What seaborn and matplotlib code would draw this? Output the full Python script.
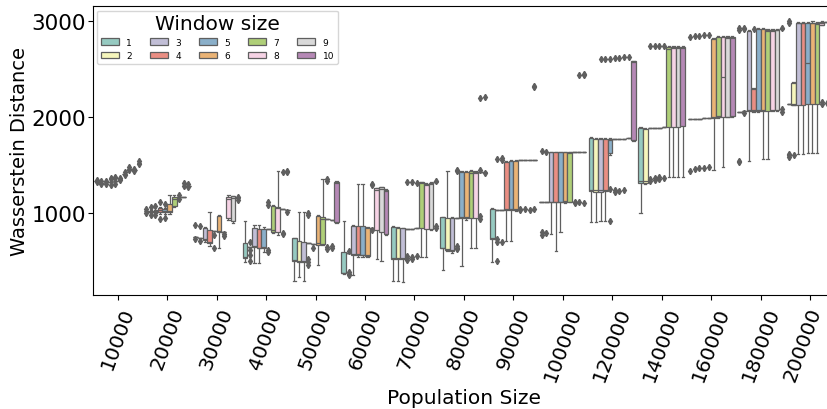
import numpy as np
import pandas as pd
import matplotlib
matplotlib.use("Agg")
import matplotlib.pyplot as plt
from matplotlib.transforms import ScaledTranslation
import seaborn as sns

# Population sizes on the x axis and the window sizes compared at each one
POP_SIZES = [10000, 20000, 30000, 40000, 50000, 60000, 70000, 80000,
             90000, 100000, 120000, 140000, 160000, 180000, 200000]
WINDOWS = [1, 2, 3, 4, 5, 6, 7, 8, 9, 10]

# Box statistics per population size (rows) and window size (columns)
WHIS_LO = [
    [1335, 1315, 1320, 1320, 1330, 1350, 1410, 1460, 1445, 1525],
    [1020, 1000, 1005, 995, 990, 990, 1060, 1165, 1165, 1285],
    [750, 735, 700, 660, 815, 640, 805, 930, 900, 1155],
    [493, 650, 480, 480, 590, 830, 790, 770, 1040, 1035],
    [295, 330, 295, 685, 680, 460, 665, 937, 930, 900],
    [360, 585, 355, 545, 540, 545, 840, 520, 505, 770],
    [295, 290, 280, 838, 838, 840, 538, 540, 820, 1320],
    [410, 600, 580, 950, 445, 930, 632, 640, 1430, 1430],
    [493, 1035, 1030, 705, 705, 1025, 1552, 1550, 1550, 1548],
    [1110, 1110, 780, 605, 800, 1100, 1110, 1632, 1632, 1632],
    [905, 905, 915, 920, 1600, 1771, 1775, 1775, 1778, 1750],
    [1005, 1300, 1886, 1888, 1890, 1892, 1370, 1380, 1370, 1375],
    [1975, 1978, 1982, 1985, 1990, 1448, 1990, 1476, 1995, 2000],
    [2055, 2060, 1545, 2050, 2050, 1560, 1560, 2060, 2060, 2917],
    [2135, 2120, 1615, 1610, 1620, 1625, 1630, 2955, 2985, 2990],
]
Q1 = [
    [1335, 1315, 1320, 1320, 1330, 1350, 1410, 1460, 1445, 1525],
    [1020, 1010, 1010, 1007, 1007, 1007, 1070, 1165, 1165, 1285],
    [750, 735, 720, 687, 815, 800, 805, 948, 920, 1155],
    [528, 650, 650, 635, 640, 830, 805, 800, 1040, 1035],
    [503, 493, 493, 685, 680, 667, 677, 937, 930, 909],
    [375, 585, 565, 563, 560, 555, 840, 826, 800, 781],
    [521, 521, 521, 838, 838, 840, 840, 836, 830, 1320],
    [632, 620, 607, 950, 945, 945, 945, 950, 1430, 1430],
    [729, 1035, 1030, 1035, 1035, 1035, 1552, 1550, 1550, 1548],
    [1110, 1110, 1111, 1111, 1111, 1115, 1120, 1632, 1632, 1632],
    [1232, 1222, 1222, 1232, 1625, 1771, 1775, 1775, 1778, 1760],
    [1317, 1317, 1886, 1888, 1890, 1892, 1900, 1900, 1900, 1905],
    [1975, 1978, 1982, 1985, 1990, 1990, 1997, 2000, 2005, 2014],
    [2055, 2060, 2060, 2060, 2060, 2065, 2065, 2070, 2070, 2917],
    [2135, 2128, 2128, 2128, 2135, 2135, 2140, 2962, 2985, 2990],
]
MEDIAN = [
    [1335, 1315, 1320, 1320, 1330, 1350, 1410, 1460, 1445, 1525],
    [1020, 1015, 1015, 1030, 1020, 1020, 1150, 1165, 1165, 1285],
    [750, 735, 730, 700, 815, 810, 805, 1150, 1160, 1155],
    [540, 650, 655, 640, 645, 830, 820, 1050, 1040, 1035],
    [510, 500, 500, 685, 680, 690, 940, 937, 930, 1310],
    [380, 585, 575, 570, 565, 565, 840, 1240, 1255, 1230],
    [530, 530, 530, 838, 838, 840, 1310, 1295, 1305, 1320],
    [640, 630, 615, 950, 955, 955, 1420, 1420, 1430, 1430],
    [740, 1035, 1030, 1045, 1045, 1045, 1552, 1550, 1550, 1548],
    [1110, 1110, 1120, 1120, 1120, 1125, 1620, 1632, 1632, 1632],
    [1240, 1235, 1235, 1240, 1760, 1771, 1775, 1775, 1778, 2570],
    [1330, 1330, 1886, 1888, 1890, 1892, 2710, 2715, 2715, 2715],
    [1975, 1978, 1982, 1985, 1990, 2000, 2010, 2420, 2820, 2820],
    [2055, 2060, 2070, 2070, 2070, 2075, 2900, 2900, 2905, 2917],
    [2135, 2135, 2980, 2975, 2560, 2975, 2965, 2975, 2985, 2990],
]
Q3 = [
    [1335, 1315, 1320, 1320, 1330, 1350, 1410, 1460, 1445, 1525],
    [1020, 1025, 1025, 1049, 1040, 1090, 1170, 1165, 1165, 1285],
    [750, 735, 845, 823, 815, 965, 805, 1164, 1174, 1155],
    [687, 650, 840, 833, 835, 830, 1070, 1062, 1040, 1035],
    [736, 711, 701, 685, 680, 965, 955, 937, 930, 1326],
    [597, 585, 870, 865, 860, 840, 840, 1257, 1268, 1243],
    [850, 840, 840, 838, 838, 840, 1318, 1302, 1313, 1320],
    [955, 950, 945, 950, 1430, 1430, 1435, 1430, 1430, 1430],
    [1042, 1035, 1030, 1528, 1545, 1540, 1552, 1550, 1550, 1548],
    [1110, 1110, 1632, 1632, 1632, 1632, 1632, 1632, 1632, 1632],
    [1781, 1771, 1771, 1771, 1771, 1771, 1775, 1775, 1778, 2580],
    [1886, 1875, 1886, 1888, 1890, 1892, 2726, 2726, 2726, 2726],
    [1975, 1978, 1982, 1985, 1990, 2813, 2830, 2830, 2830, 2830],
    [2055, 2060, 2900, 2292, 2917, 2917, 2910, 2910, 2910, 2917],
    [2135, 2351, 2982, 2982, 2982, 2982, 2975, 2990, 2985, 2990],
]
WHIS_HI = [
    [1335, 1315, 1320, 1320, 1330, 1350, 1410, 1460, 1445, 1525],
    [1020, 1035, 1035, 1060, 1050, 1190, 1185, 1165, 1165, 1285],
    [750, 735, 855, 1010, 815, 980, 805, 1175, 1180, 1155],
    [920, 650, 875, 875, 850, 830, 1080, 1440, 1040, 1035],
    [745, 1010, 1010, 685, 680, 975, 1350, 937, 930, 1335],
    [920, 585, 880, 1300, 1300, 850, 840, 1265, 1275, 1250],
    [860, 850, 845, 838, 838, 840, 1325, 1310, 1320, 1320],
    [960, 1440, 955, 950, 1440, 1440, 1445, 1440, 1430, 1430],
    [1050, 1035, 1030, 1540, 1555, 1550, 1552, 1550, 1550, 1548],
    [1110, 1110, 1640, 1640, 1640, 1640, 1640, 1632, 1632, 1632],
    [1790, 1780, 1780, 1780, 1780, 1771, 1775, 1775, 1778, 2585],
    [1895, 1885, 1886, 1888, 1890, 1892, 2735, 2735, 2735, 2740],
    [1975, 1978, 1982, 1985, 1990, 2825, 2840, 2840, 2840, 2840],
    [2055, 2060, 2910, 2300, 2925, 2925, 2920, 2920, 2920, 2917],
    [2135, 2360, 2990, 2990, 2990, 2995, 2990, 3000, 2985, 2990],
]

# Outlying runs below / above the whiskers, keyed by (population size, window size)
LOW_FLIERS = {
    (10000, 1): [1320], (10000, 2): [1300], (10000, 3): [1305],
    (10000, 4): [1290], (10000, 5): [1300], (10000, 6): [1340],
    (10000, 7): [1395], (10000, 8): [1450], (10000, 9): [1435],
    (10000, 10): [1510],
    (20000, 1): [1000], (20000, 2): [975], (20000, 3): [980],
    (20000, 4): [940], (20000, 5): [950], (20000, 8): [1145],
    (20000, 10): [1270],
    (30000, 1): [730], (30000, 2): [705], (30000, 5): [770, 640],
    (30000, 7): [780, 760], (30000, 10): [1140],
    (40000, 2): [610, 560, 500], (40000, 6): [620, 590],
    (40000, 9): [790, 780], (40000, 10): [1010],
    (50000, 4): [520, 490, 455], (50000, 5): [640],
    (50000, 8): [650, 630], (50000, 9): [640, 660],
    (60000, 2): [390, 360, 350], (60000, 7): [820],
    (70000, 4): [555, 535, 515], (70000, 5): [540, 520],
    (70000, 6): [550], (70000, 10): [840, 860],
    (80000, 4): [660, 640, 625], (80000, 9): [970, 940], (80000, 10): [1415],
    (90000, 2): [729, 700, 505], (90000, 3): [700],
    (90000, 7): [1045, 1030], (90000, 8): [1040], (90000, 9): [1035],
    (90000, 10): [1040],
    (100000, 1): [800, 770], (100000, 2): [790],
    (100000, 8): [1115, 1100], (100000, 9): [1110], (100000, 10): [1105],
    (120000, 5): [1250, 920], (120000, 6): [1240, 1220],
    (120000, 7): [1230], (120000, 8): [1235],
    (140000, 3): [1330, 1350], (140000, 4): [1340, 1360],
    (140000, 5): [1350, 1370], (140000, 6): [1365],
    (160000, 1): [1440], (160000, 2): [1455], (160000, 3): [1465],
    (160000, 4): [1470], (160000, 5): [1480],
    (180000, 1): [1530, 1545], (180000, 2): [2040], (180000, 10): [2055, 2080],
    (200000, 1): [1580, 1600, 1615], (200000, 2): [1605],
    (200000, 8): [2140, 2160], (200000, 9): [2150], (200000, 10): [2155],
}
HIGH_FLIERS = {
    (10000, 1): [1345], (10000, 2): [1330], (10000, 3): [1335],
    (10000, 4): [1350, 1365], (10000, 5): [1360, 1375], (10000, 6): [1365],
    (10000, 7): [1425], (10000, 8): [1475], (10000, 9): [1455],
    (10000, 10): [1545],
    (20000, 1): [1045], (20000, 2): [1060], (20000, 3): [1070],
    (20000, 4): [1120], (20000, 5): [1095], (20000, 8): [1185],
    (20000, 9): [1285, 1310], (20000, 10): [1300],
    (30000, 1): [875], (30000, 2): [860], (30000, 8): [1190],
    (30000, 10): [1170],
    (40000, 2): [700], (40000, 6): [1080, 1120], (40000, 9): [1425],
    (40000, 10): [1425, 1440],
    (50000, 4): [975, 1005], (50000, 8): [1350, 1330],
    (60000, 2): [600], (60000, 7): [1290, 1300],
    (70000, 4): [1320], (70000, 5): [1325], (70000, 6): [1315],
    (70000, 10): [1335],
    (80000, 4): [1440, 1450], (80000, 9): [1445, 2195], (80000, 10): [2205],
    (90000, 2): [1560], (90000, 3): [1570, 1550], (90000, 10): [2310, 2325],
    (100000, 1): [1650], (100000, 2): [1640], (100000, 9): [2440],
    (100000, 10): [2440, 2450],
    (120000, 3): [2600], (120000, 4): [2605], (120000, 5): [2600],
    (120000, 6): [2610], (120000, 7): [2615], (120000, 8): [2620],
    (120000, 9): [2625],
    (140000, 3): [2735], (140000, 4): [2740], (140000, 5): [2735],
    (140000, 6): [2740],
    (160000, 1): [2835], (160000, 2): [2840], (160000, 3): [2845],
    (160000, 4): [2850], (160000, 5): [2850],
    (180000, 1): [2910, 2925], (180000, 2): [2915, 2930], (180000, 4): [2920],
    (180000, 10): [2930],
    (200000, 1): [2980, 3000],
}


def runs_from_summary(lo, q1, med, q3, hi, low=(), high=()):
    """Observations whose quartiles and whisker ends equal the given summary."""
    below = sorted(low) + [lo]
    above = [hi] + sorted(high)
    m = max(len(below), len(above))
    below = below + [lo] * (m - len(below))
    above = [hi] * (m - len(above)) + above
    return below + [q1] * m + [med] + [q3] * m + above


records = []
for g, pop in enumerate(POP_SIZES):
    for w, win in enumerate(WINDOWS):
        vals = runs_from_summary(
            WHIS_LO[g][w], Q1[g][w], MEDIAN[g][w], Q3[g][w], WHIS_HI[g][w],
            LOW_FLIERS.get((pop, win), ()), HIGH_FLIERS.get((pop, win), ()),
        )
        for v in vals:
            records.append((str(pop), str(win), v))

df = pd.DataFrame(records, columns=["Population Size", "Window size",
                                    "Wasserstein Distance"])

fig = plt.figure(figsize=(8.28, 4.10), dpi=100)
ax = fig.add_axes([0.1123, 0.278, 0.8959, 0.7049])

line_grey = "#5f5f5f"
sns.boxplot(
    data=df, x="Population Size", y="Wasserstein Distance", hue="Window size",
    order=[str(p) for p in POP_SIZES], hue_order=[str(w) for w in WINDOWS],
    palette="Set3", width=0.95, linewidth=0.9, linecolor=line_grey,
    flierprops=dict(marker="d", markersize=3.2, markerfacecolor=line_grey,
                    markeredgecolor=line_grey),
    ax=ax,
)

ax.set_ylim(146, 3156)
ax.set_yticks([1000, 2000, 3000])
ax.tick_params(axis="y", labelsize=15.5, pad=1.5)
ax.tick_params(axis="x", labelsize=14.5)
xlabels = ax.get_xticklabels()
plt.setp(xlabels, rotation=70)
# nudge the last rotated label inward so it stays on the canvas
xlabels[-1].set_transform(xlabels[-1].get_transform()
                          + ScaledTranslation(-0.08, 0, fig.dpi_scale_trans))
ax.set_xlabel("Population Size", fontsize=14.5, labelpad=3)
ax.set_ylabel("Wasserstein Distance", fontsize=14, labelpad=2)

sns.move_legend(ax, "upper left", ncol=5, title="Window size",
                title_fontsize=14.5, fontsize=6.5, frameon=True)

fig.savefig("out.png", dpi=100)
